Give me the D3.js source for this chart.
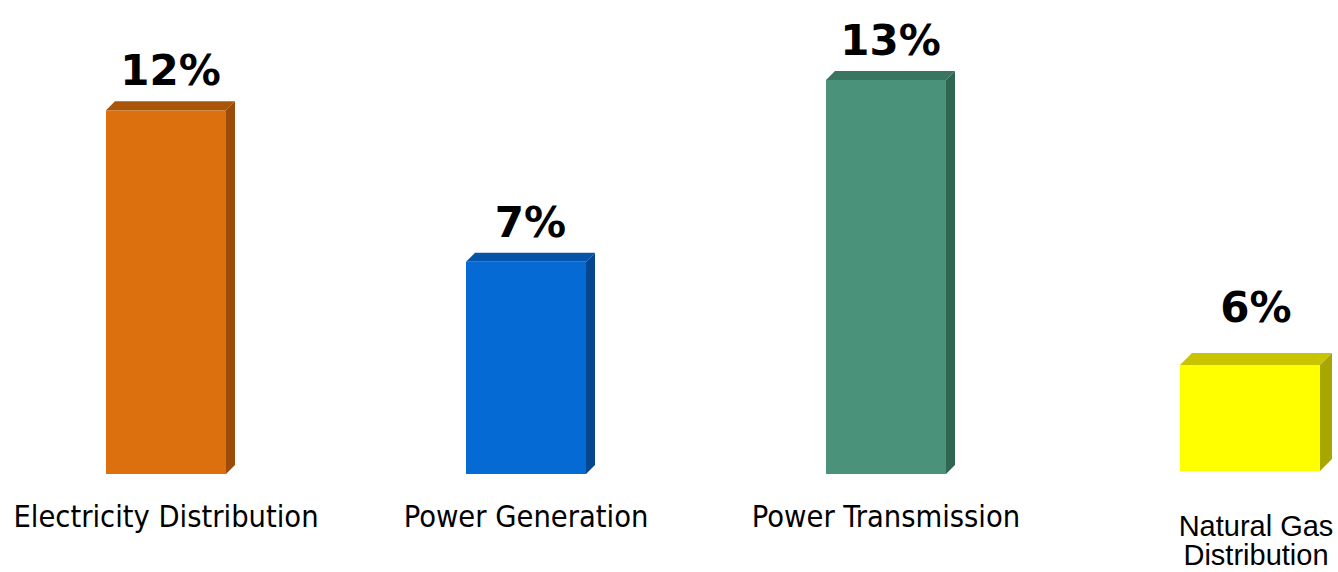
<!DOCTYPE html>
<html>
<head>
<meta charset="utf-8">
<script src="https://cdn.jsdelivr.net/npm/d3@7"></script>
<style>
  html, body { margin: 0; padding: 0; background: #ffffff; }
  svg { display: block; }
</style>
</head>
<body>
<svg id="chart" width="1338" height="572"></svg>
<script>
// Growth by segment — three utility segments share one scale, gas distribution has its own panel
const mainCategories = ["Electricity Distribution", "Power Generation", "Power Transmission"];
const mainValues = [12, 7, 13];
const mainLabels = ["12%", "7%", "13%"];

const gasCategories = ["Natural Gas Distribution"];
const gasValues = [6];
const gasLabels = ["6%"];

// front / top / side shades for each bar
const mainColors = [
  { front: "#DC700F", top: "#A9560B", side: "#9A4C08" },
  { front: "#066AD4", top: "#0554AA", side: "#044690" },
  { front: "#4A937A", top: "#3A7561", side: "#306552" }
];
const gasColors = [
  { front: "#FFFF00", top: "#C8C400", side: "#A8A600" }
];

const svg = d3.select("#chart");

function drawPanel(opts) {
  const { categories, values, labels, colors, x, y, depth, labelOffset } = opts;
  const g = svg.append("g");
  const bw = x.bandwidth();
  const base = y(0);

  const bars = g.selectAll("g.bar")
    .data(categories.map((c, i) => ({ c, v: values[i], label: labels[i], col: colors[i] })))
    .join("g").attr("class", "bar");

  // front face
  bars.append("rect")
    .attr("x", d => x(d.c))
    .attr("y", d => y(d.v))
    .attr("width", bw)
    .attr("height", d => base - y(d.v))
    .attr("fill", d => d.col.front);

  // top face
  bars.append("path")
    .attr("d", d => {
      const x0 = x(d.c), yt = y(d.v);
      return `M${x0},${yt} L${x0 + depth},${yt - depth} L${x0 + bw + depth},${yt - depth} L${x0 + bw},${yt} Z`;
    })
    .attr("fill", d => d.col.top);

  // side face
  bars.append("path")
    .attr("d", d => {
      const x1 = x(d.c) + bw, yt = y(d.v);
      return `M${x1},${yt} L${x1 + depth},${yt - depth} L${x1 + depth},${base - depth} L${x1},${base} Z`;
    })
    .attr("fill", d => d.col.side);

  // value labels
  bars.append("text")
    .attr("x", d => x(d.c) + bw / 2 + depth / 2)
    .attr("y", d => y(d.v) - labelOffset)
    .attr("text-anchor", "middle")
    .attr("font-family", "'DejaVu Sans', Verdana, sans-serif")
    .attr("font-weight", "bold")
    .attr("font-size", 42)
    .attr("fill", "#000")
    .text(d => d.label);

  return g;
}

// main panel
const xMain = d3.scaleBand()
  .domain(mainCategories)
  .range([-14, 1066])
  .paddingInner(2 / 3)
  .paddingOuter(1 / 3);
const yMain = d3.scaleLinear().domain([0, 13]).range([474, 80]);

drawPanel({
  categories: mainCategories, values: mainValues, labels: mainLabels,
  colors: mainColors, x: xMain, y: yMain, depth: 9, labelOffset: 25
});

const mainAxis = d3.axisBottom(xMain).tickSize(0).tickPadding(0);
const axG = svg.append("g")
  .attr("transform", "translate(0,527)")
  .call(mainAxis);
axG.select(".domain").remove();
axG.selectAll("text")
  .attr("dy", 0)
  .attr("font-family", "'DejaVu Sans Condensed', 'DejaVu Sans', sans-serif")
  .attr("font-stretch", "condensed")
  .attr("font-size", 30.5)
  .attr("fill", "#000");

// gas distribution panel
const xGas = d3.scaleBand().domain(gasCategories).range([1180, 1320]);
const yGas = d3.scaleLinear().domain([0, 6]).range([471, 365]);

drawPanel({
  categories: gasCategories, values: gasValues, labels: gasLabels,
  colors: gasColors, x: xGas, y: yGas, depth: 12, labelOffset: 43
});

const gasAxis = d3.axisBottom(xGas).tickSize(0).tickFormat(() => "");
const gasG = svg.append("g").attr("transform", "translate(0,536)").call(gasAxis);
gasG.select(".domain").remove();
gasG.selectAll(".tick").each(function (d) {
  const words = d.split(" ");
  const lines = [words.slice(0, 2).join(" "), words.slice(2).join(" ")];
  const t = d3.select(this).select("text")
    .attr("y", 0).attr("dy", 0)
    .attr("font-family", "'Liberation Sans', Arial, sans-serif")
    .attr("font-size", 29)
    .attr("fill", "#000")
    .attr("text-anchor", "middle");
  t.selectAll("tspan").data(lines).join("tspan")
    .attr("x", 6)
    .attr("dy", (l, i) => i === 0 ? 0 : 29)
    .text(l => l);
});
</script>
</body>
</html>
